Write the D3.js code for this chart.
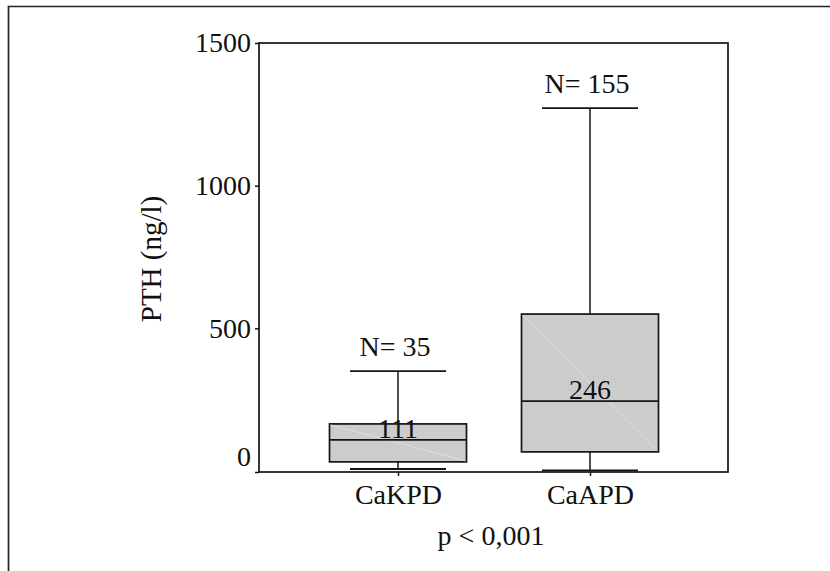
<!DOCTYPE html>
<html>
<head>
<meta charset="utf-8">
<script src="https://cdn.jsdelivr.net/npm/d3@7"></script>
<style>
  body { margin: 0; background: #fff; }
  text { font-family: "Liberation Serif", "Times New Roman", serif; fill: #111; }
</style>
</head>
<body>
<svg id="chart" width="830" height="571"></svg>
<script>
  // data
  var groups = ["CaKPD", "CaAPD"];
  var counts = [35, 155];
  var whiskerLow = [7, 2];
  var q1 = [32, 67];
  var medians = [109, 245];
  var medianLabels = ["111", "246"];
  var q3 = [165, 550];
  var whiskerHigh = [350, 1272];
  var yTicks = [0, 500, 1000, 1500];

  var svg = d3.select("#chart");
  var FONT = "28px";
  var INK = "#141414";

  // outer frame (only left + top are visible in the picture)
  svg.append("path")
    .attr("d", "M8.5,580 L8.5,6.5 L840,6.5")
    .attr("fill", "none")
    .attr("stroke", "#222")
    .attr("stroke-width", 1.7);

  var y = d3.scaleLinear().domain([0, 1500]).range([471, 43]);
  var x = d3.scalePoint().domain(groups).range([398, 590]);

  var plotL = 259, plotR = 728, plotT = 43, plotB = 472;
  var boxW = 137, capW = 96;

  // plot frame
  svg.append("rect")
    .attr("x", plotL).attr("y", plotT)
    .attr("width", plotR - plotL).attr("height", plotB - plotT)
    .attr("fill", "none")
    .attr("stroke", INK)
    .attr("stroke-width", 1.7);

  // y axis
  var yAxis = svg.append("g")
    .attr("transform", "translate(" + plotL + ",0)")
    .call(d3.axisLeft(y).tickValues(yTicks).tickFormat(d3.format("d")).tickSize(4).tickPadding(4));
  yAxis.attr("font-family", null);
  yAxis.select(".domain").remove();
  yAxis.selectAll("line").attr("stroke", INK).attr("stroke-width", 1.5);
  yAxis.selectAll("text")
    .style("font-size", FONT)
    .attr("fill", "#111")
    .attr("dy", function(d) { return d === 0 ? "-0.18em" : "0.32em"; });
  // the bottom tick sits on the frame corner
  yAxis.selectAll(".tick").filter(function(d) { return d === 0; })
    .select("line").attr("transform", "translate(0,1)");

  // x axis
  var xAxis = svg.append("g")
    .attr("transform", "translate(0," + plotB + ")")
    .call(d3.axisBottom(x).tickSize(4).tickPadding(8));
  xAxis.attr("font-family", null);
  xAxis.select(".domain").remove();
  xAxis.selectAll("line").attr("stroke", INK).attr("stroke-width", 1.5);
  xAxis.selectAll("text")
    .style("font-size", FONT)
    .attr("fill", "#111")
    .attr("dy", "0.71em");

  // y label
  svg.append("text")
    .attr("transform", "translate(161,259) rotate(-90)")
    .attr("text-anchor", "middle")
    .style("font-size", "29px")
    .text("PTH (ng/l)");

  // p value
  svg.append("text")
    .attr("x", 491).attr("y", 545)
    .attr("text-anchor", "middle")
    .style("font-size", FONT)
    .text("p < 0,001");

  // boxes
  var boxes = svg.append("g").selectAll("g")
    .data(groups)
    .enter()
    .append("g");

  // whiskers
  boxes.append("line")
    .attr("x1", function(d) { return x(d); })
    .attr("x2", function(d) { return x(d); })
    .attr("y1", function(d, i) { return y(whiskerHigh[i]); })
    .attr("y2", function(d, i) { return y(whiskerLow[i]); })
    .attr("stroke", INK).attr("stroke-width", 1.5);

  boxes.selectAll(".cap")
    .data(function(d, i) { return [whiskerLow[i], whiskerHigh[i]].map(function(v) { return { g: d, v: v }; }); })
    .enter()
    .append("line")
    .attr("class", "cap")
    .attr("x1", function(c) { return x(c.g) - capW / 2; })
    .attr("x2", function(c) { return x(c.g) + capW / 2; })
    .attr("y1", function(c) { return y(c.v); })
    .attr("y2", function(c) { return y(c.v); })
    .attr("stroke", INK).attr("stroke-width", 1.8);

  boxes.append("rect")
    .attr("x", function(d) { return x(d) - boxW / 2; })
    .attr("y", function(d, i) { return y(q3[i]); })
    .attr("width", boxW)
    .attr("height", function(d, i) { return y(q1[i]) - y(q3[i]); })
    .attr("fill", "#cccccc")
    .attr("stroke", INK)
    .attr("stroke-width", 1.7);

  // faint diagonal artefact inside each box
  boxes.append("line")
    .attr("x1", function(d) { return x(d) - boxW / 2 + 1; })
    .attr("x2", function(d) { return x(d) + boxW / 2 - 1; })
    .attr("y1", function(d, i) { return y(q3[i]) + 1; })
    .attr("y2", function(d, i) { return y(q1[i]) - 1; })
    .attr("stroke", "#e2e2e2").attr("stroke-width", 0.8);

  boxes.append("line")
    .attr("x1", function(d) { return x(d) - boxW / 2; })
    .attr("x2", function(d) { return x(d) + boxW / 2; })
    .attr("y1", function(d, i) { return y(medians[i]); })
    .attr("y2", function(d, i) { return y(medians[i]); })
    .attr("stroke", INK).attr("stroke-width", 1.6);

  boxes.append("text")
    .attr("x", function(d) { return x(d); })
    .attr("y", function(d, i) { return y(medians[i]) - 2; })
    .attr("text-anchor", "middle")
    .style("font-size", FONT)
    .text(function(d, i) { return medianLabels[i]; });

  boxes.append("text")
    .attr("x", function(d) { return x(d) - 3; })
    .attr("y", function(d, i) { return y(whiskerHigh[i]) - 15; })
    .attr("text-anchor", "middle")
    .style("font-size", FONT)
    .text(function(d, i) { return "N= " + counts[i]; });
</script>
</body>
</html>
